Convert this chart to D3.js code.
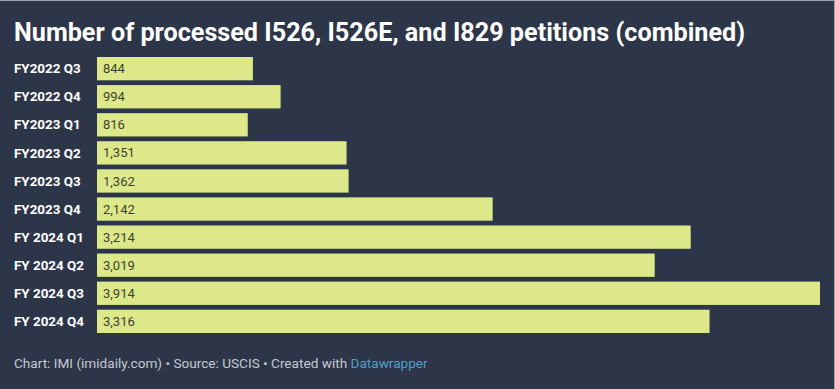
<!DOCTYPE html>
<html>
<head>
<meta charset="utf-8">
<script src="https://cdn.jsdelivr.net/npm/d3@7"></script>
<style>
  html, body { margin: 0; padding: 0; background: #2d3648; }
  svg { display: block; font-family: Roboto, "Noto Sans", sans-serif; }
</style>
</head>
<body>
<svg id="chart"></svg>
<script>
var width = 835; // size of the picture
var height = 389;

// Data
var quarters = ["FY2022 Q3", "FY2022 Q4", "FY2023 Q1", "FY2023 Q2", "FY2023 Q3",
                "FY2023 Q4", "FY 2024 Q1", "FY 2024 Q2", "FY 2024 Q3", "FY 2024 Q4"];
var petitions = [844, 994, 816, 1351, 1362, 2142, 3214, 3019, 3914, 3316];

var titleText = "Number of processed I526, I526E, and I829 petitions (combined)";

var svg = d3.select("#chart")
    .attr("width", width)
    .attr("height", height);

// Background and thin light edges
svg.append("rect").attr("width", width).attr("height", height).attr("fill", "#2d3648");
svg.append("rect").attr("x", 0).attr("y", 0).attr("width", width).attr("height", 1).attr("fill", "#9aa3b0");
svg.append("rect").attr("x", width - 1).attr("y", 0).attr("width", 1).attr("height", height).attr("fill", "#9aa3b0");

// Title
svg.append("text")
    .attr("x", 14)
    .attr("y", 41)
    .attr("fill", "#ffffff")
    .attr("font-size", 25.2)
    .attr("font-weight", 700)
    .text(titleText);

// Scales
var x = d3.scaleLinear()
    .domain([0, d3.max(petitions)])
    .range([97, 820]);

var y = d3.scaleBand()
    .domain(quarters)
    .range([57, 333])
    .paddingInner(0.17)
    .paddingOuter(0.0);

var rows = quarters.map(function (q, i) { return { q: q, v: petitions[i] }; });

// Bars
svg.selectAll("rect.bar")
    .data(rows)
    .enter().append("rect")
    .attr("class", "bar")
    .attr("x", x(0))
    .attr("y", function (d) { return y(d.q); })
    .attr("width", function (d) { return x(d.v) - x(0); })
    .attr("height", y.bandwidth())
    .attr("fill", "#dde88a");

// Category labels
svg.selectAll("text.cat")
    .data(rows)
    .enter().append("text")
    .attr("class", "cat")
    .attr("x", 14)
    .attr("y", function (d) { return y(d.q) + y.bandwidth() / 2; })
    .attr("dy", "0.35em")
    .attr("fill", "#ffffff")
    .attr("font-size", 13.4)
    .attr("font-weight", 700)
    .text(function (d) { return d.q; });

// Value labels inside bars
var fmt = d3.format(",");
svg.selectAll("text.val")
    .data(rows)
    .enter().append("text")
    .attr("class", "val")
    .attr("x", x(0) + 6)
    .attr("y", function (d) { return y(d.q) + y.bandwidth() / 2; })
    .attr("dy", "0.35em")
    .attr("fill", "#3d4230")
    .attr("font-size", 13)
    .text(function (d) { return fmt(d.v); });

// Footer
var foot = svg.append("text")
    .attr("x", 14)
    .attr("y", 368)
    .attr("fill", "#c4c9d0")
    .attr("font-size", 13.6);
foot.append("tspan").text("Chart: IMI (imidaily.com) \u2022 Source: USCIS \u2022 Created with ");
foot.append("tspan").attr("fill", "#4d9fca").text("Datawrapper");
</script>
</body>
</html>
